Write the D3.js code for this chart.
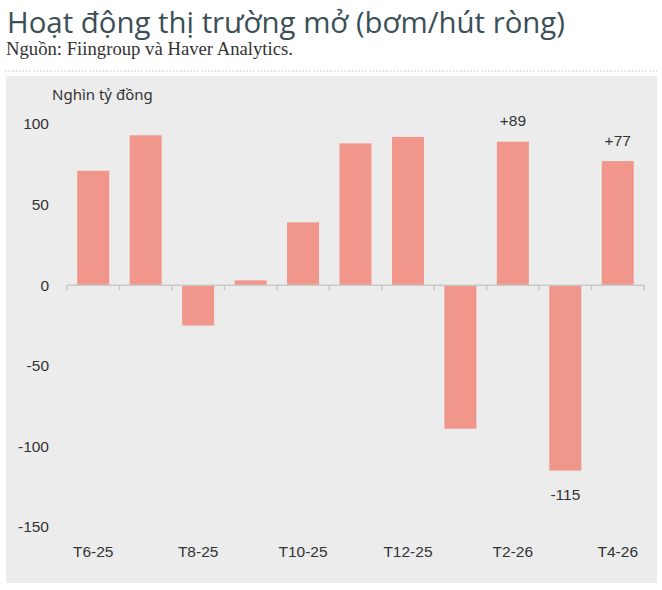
<!DOCTYPE html>
<html>
<head>
<meta charset="utf-8">
<script src="https://cdn.jsdelivr.net/npm/d3@7"></script>
<style>
  body { margin: 0; background: #fff; }
</style>
</head>
<body>
<svg width="662" height="590"></svg>
<script>
const svg = d3.select("svg"),
      width = +svg.attr("width"),
      height = +svg.attr("height");

// data (nghin ty dong)
const months = ["T6-25", "T7-25", "T8-25", "T9-25", "T10-25", "T11-25", "T12-25", "T1-26", "T2-26", "T3-26", "T4-26"];
const netFlow = [71, 93, -25, 3, 39, 88, 92, -89, 89, -115, 77];
const yTicks = [100, 50, 0, -50, -100, -150];
const labelled = { "T2-26": "+89", "T3-26": "-115", "T4-26": "+77" };

// title block
svg.append("text")
    .attr("x", 7).attr("y", 33)
    .attr("font-family", "Open Sans")
    .attr("font-size", 29)
    .attr("fill", "#3b4f57")
    .attr("textLength", 558)
    .attr("lengthAdjust", "spacingAndGlyphs")
    .text("Hoạt động thị trường mở (bơm/hút ròng)");

svg.append("text")
    .attr("x", 6).attr("y", 55)
    .attr("font-family", "Liberation Serif")
    .attr("font-size", 18)
    .attr("fill", "#333")
    .attr("textLength", 287)
    .attr("lengthAdjust", "spacingAndGlyphs")
    .text("Nguồn: Fiingroup và Haver Analytics.");

// dotted separator
svg.append("line")
    .attr("x1", 5).attr("x2", 657)
    .attr("y1", 71).attr("y2", 71)
    .attr("stroke", "#c4c4c4")
    .attr("stroke-width", 1.2)
    .attr("stroke-dasharray", "1.5,2");

// grey panel
svg.append("rect")
    .attr("x", 6).attr("y", 76)
    .attr("width", 651).attr("height", 507)
    .attr("fill", "#ececec");

const x = d3.scaleBand()
    .domain(months)
    .range([67, 644])
    .paddingInner(0.39)
    .paddingOuter(0.195);

const y = d3.scaleLinear()
    .domain([-150, 100])
    .range([527, 124]);

// units label
svg.append("text")
    .attr("x", 52).attr("y", 100)
    .attr("font-family", "Noto Sans")
    .attr("font-size", 15)
    .attr("fill", "#333")
    .text("Nghìn tỷ đồng");

// y tick labels (no axis line)
svg.append("g")
    .selectAll("text")
    .data(yTicks)
    .enter().append("text")
    .attr("x", 49)
    .attr("y", d => y(d))
    .attr("dy", "0.35em")
    .attr("text-anchor", "end")
    .attr("font-family", "Liberation Sans")
    .attr("font-size", 15.5)
    .attr("fill", "#333")
    .text(d => d);

// bars
svg.append("g")
    .selectAll("rect")
    .data(months)
    .enter().append("rect")
    .attr("x", d => x(d))
    .attr("width", x.bandwidth())
    .attr("y", (d, i) => y(Math.max(0, netFlow[i])))
    .attr("height", (d, i) => Math.abs(y(netFlow[i]) - y(0)))
    .attr("fill", "#f1968b");

// zero axis with ticks at category boundaries
const boundaries = months.map(m => x(m) - x.step() * x.paddingInner() / 2)
    .concat([x.range()[1]]);

const axis = svg.append("g");
axis.append("line")
    .attr("x1", x.range()[0]).attr("x2", x.range()[1])
    .attr("y1", y(0)).attr("y2", y(0))
    .attr("stroke", "#c9c9c9")
    .attr("stroke-width", 1.5);
axis.selectAll(".tk")
    .data(boundaries)
    .enter().append("line")
    .attr("class", "tk")
    .attr("x1", d => d).attr("x2", d => d)
    .attr("y1", y(0)).attr("y2", y(0) + 5)
    .attr("stroke", "#c9c9c9")
    .attr("stroke-width", 1.5);

// x labels, every other month
svg.append("g")
    .selectAll("text")
    .data(months.filter((m, i) => i % 2 === 0))
    .enter().append("text")
    .attr("x", d => x(d) + x.bandwidth() / 2)
    .attr("y", 552)
    .attr("dy", "0.35em")
    .attr("text-anchor", "middle")
    .attr("font-family", "Liberation Sans")
    .attr("font-size", 15.5)
    .attr("fill", "#333")
    .text(d => d);

// value labels
svg.append("g")
    .selectAll("text")
    .data(months.filter(m => labelled[m]))
    .enter().append("text")
    .attr("x", d => x(d) + x.bandwidth() / 2)
    .attr("y", d => {
        const v = netFlow[months.indexOf(d)];
        return v >= 0 ? y(v) - 21 : y(v) + 24;
    })
    .attr("dy", "0.35em")
    .attr("text-anchor", "middle")
    .attr("font-family", "Liberation Sans")
    .attr("font-size", 15.5)
    .attr("fill", "#333")
    .text(d => labelled[d]);
</script>
</body>
</html>
